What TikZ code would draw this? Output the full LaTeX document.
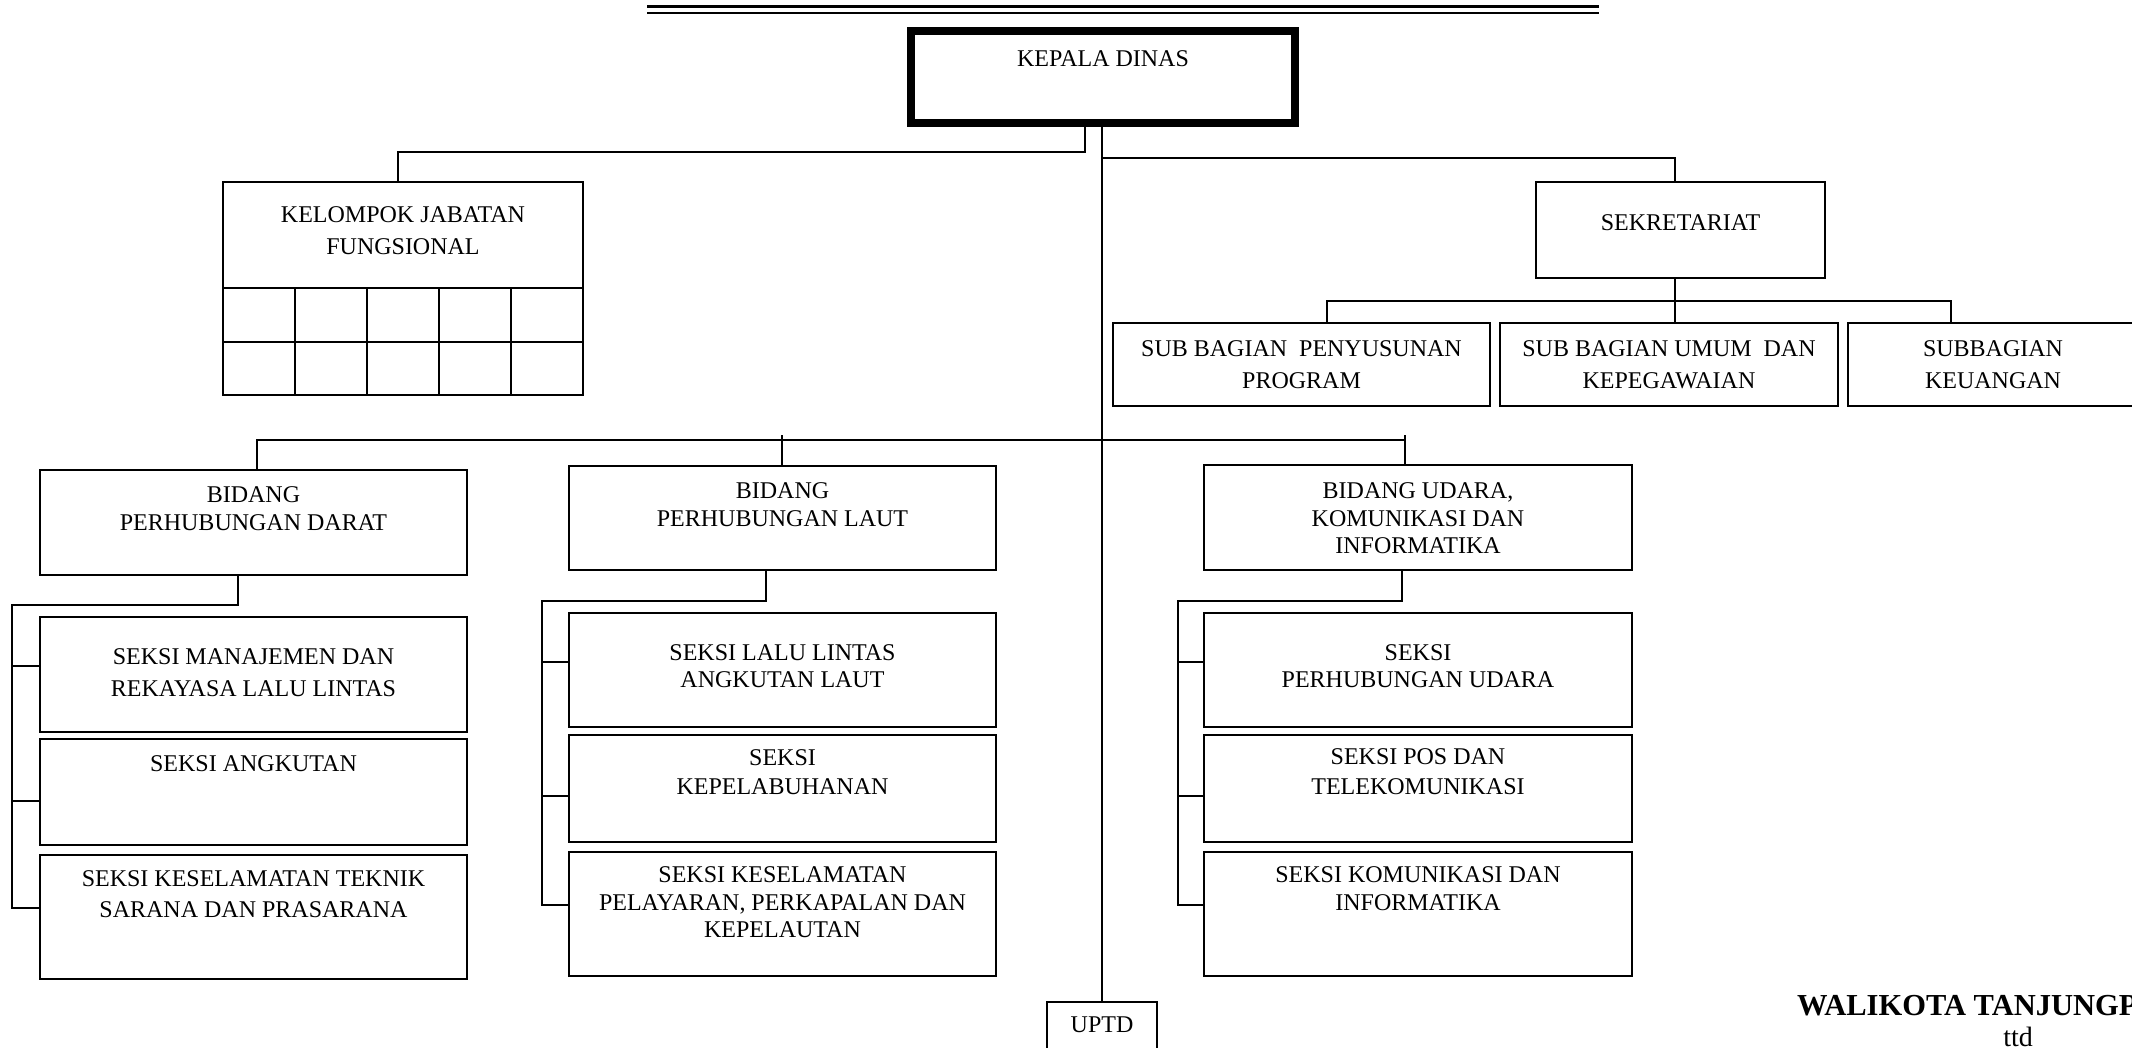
\documentclass[tikz,border=0pt]{standalone}
\usepackage{fontspec}
\setmainfont{Liberation Serif}
\usetikzlibrary{fit}
\tikzset{
  box/.style={draw, line width=2pt, inner sep=0pt, outer sep=0pt, rectangle},
  headbox/.style={draw, line width=8pt, inner sep=0pt, outer sep=0pt, rectangle},
  conn/.style={line width=2pt},
  txt/.style={inner sep=0pt, outer sep=0pt, anchor=north, align=center, font=\fontsize{24}{#1}\selectfont},
  txt/.default=32
}
\begin{document}
\begin{tikzpicture}[x=1pt,y=-1pt]
\useasboundingbox (0,0) rectangle (2132,1048);
% double rule at top
\coordinate (r1a) at (647,6.7); \coordinate (r1b) at (1599,6.7);
\coordinate (r2a) at (647,13);  \coordinate (r2b) at (1599,13);
\draw[line width=3.3pt] (r1a) -- (r1b);
\draw[line width=2.5pt] (r2a) -- (r2b);

% boxes
\node[headbox, fit={(911,31) (1295,123)}] (kd) {};
\node[box, fit={(223,182) (583,395)}] (kjf) {};
\node[box, fit={(1536,182) (1825,278)}] (sek) {};
\node[box, fit={(1113,323) (1490,406)}] (sb1) {};
\node[box, fit={(1500,323) (1838,406)}] (sb2) {};
\node[box, fit={(1848,323) (2140,406)}] (sb3) {};
\node[box, fit={(40,470) (467,575)}] (bd) {};
\node[box, fit={(569,466) (996,570)}] (bl) {};
\node[box, fit={(1204,465) (1632,570)}] (bu) {};
\node[box, fit={(40,617) (467,732)}] (d1) {};
\node[box, fit={(40,739) (467,845)}] (d2) {};
\node[box, fit={(40,855) (467,979)}] (d3) {};
\node[box, fit={(569,613) (996,727)}] (l1) {};
\node[box, fit={(569,735) (996,842)}] (l2) {};
\node[box, fit={(569,852) (996,976)}] (l3) {};
\node[box, fit={(1204,613) (1632,727)}] (u1) {};
\node[box, fit={(1204,735) (1632,842)}] (u2) {};
\node[box, fit={(1204,852) (1632,976)}] (u3) {};
\node[box, fit={(1047,1002) (1157,1060)}] (uptd) {};

% grid of kelompok jabatan fungsional
\draw[conn] (kjf.west |- 0,288) -- (kjf.east |- 0,288);
\draw[conn] (kjf.west |- 0,342) -- (kjf.east |- 0,342);
\foreach \cx in {295,367,439,511} {\draw[conn] (\cx,288) -- (\cx,0 |- kjf.south);}

% texts
\node[txt] (tkd) at (1103,51) {KEPALA DINAS};
\node[txt] (tkjf) at (403,207) {KELOMPOK JABATAN\\FUNGSIONAL};
\node[txt] (tsek) at (1680.5,215) {SEKRETARIAT};
\node[txt] (tsb1) at (1301.5,341) {SUB BAGIAN\ \ PENYUSUNAN\\PROGRAM};
\node[txt] (tsb2) at (1669,341) {SUB BAGIAN UMUM\ \ DAN\\KEPEGAWAIAN};
\node[txt] (tsb3) at (1993,341) {SUBBAGIAN\\KEUANGAN};
\node[txt=28] (tbd) at (253.5,487) {BIDANG\\PERHUBUNGAN DARAT};
\node[txt=28] (tbl) at (782.5,483) {BIDANG\\PERHUBUNGAN LAUT};
\node[txt=27.5] (tbu) at (1418,483) {BIDANG UDARA,\\KOMUNIKASI DAN\\INFORMATIKA};
\node[txt=32] (td1) at (253.5,649) {SEKSI MANAJEMEN DAN\\REKAYASA LALU LINTAS};
\node[txt] (td2) at (253.5,756) {SEKSI ANGKUTAN};
\node[txt=31] (td3) at (253.5,871) {SEKSI KESELAMATAN TEKNIK\\SARANA DAN PRASARANA};
\node[txt=27] (tl1) at (782.5,645) {SEKSI LALU LINTAS\\ANGKUTAN LAUT};
\node[txt=29] (tl2) at (782.5,750) {SEKSI\\KEPELABUHANAN};
\node[txt=27.5] (tl3) at (782.5,867) {SEKSI KESELAMATAN\\PELAYARAN, PERKAPALAN DAN\\KEPELAUTAN};
\node[txt=27] (tu1) at (1418,645) {SEKSI\\PERHUBUNGAN UDARA};
\node[txt=30] (tu2) at (1418,749) {SEKSI POS DAN\\TELEKOMUNIKASI};
\node[txt=28] (tu3) at (1418,867) {SEKSI KOMUNIKASI DAN\\INFORMATIKA};
\node[txt] (tuptd) at (1102,1017) {UPTD};
\node[inner sep=0pt, anchor=base west, font=\fontsize{30.5}{34}\selectfont\bfseries] (wk) at (1797,1015) {WALIKOTA TANJUNGPINANG};
\node[inner sep=0pt, anchor=base, font=\fontsize{28}{32}\selectfont] (ttd) at (2018,1046) {ttd};

% junction coordinates
\coordinate (jl) at (1085,152);
\coordinate (jr) at (1103,158);
\coordinate (jbus) at (1103,440);

% connectors from kepala dinas
\draw[conn] (jl |- kd.south) -- (jl) -- (398,152) -- (398,0 |- kjf.north);
\draw[conn] (uptd.north |- kd.south) -- (uptd.north);
\draw[conn] (jr) -- (1675,158) -- (1675,0 |- sek.north);

% sekretariat to sub bagian
\draw[conn] (1675,0 |- sek.south) -- (1675,0 |- sb2.north);
\draw[conn] (1327,0 |- sb1.north) -- (1327,301) -- (1951,301) -- (1951,0 |- sb3.north);

% bus to bidang
\draw[conn] (257,0 |- bd.north) -- (257,440) -- (1405,440);
\draw[conn] (782,435) -- (782,0 |- bl.north);
\draw[conn] (1405,435) -- (1405,0 |- bu.north);

% darat
\draw[conn] (238,0 |- bd.south) -- (238,605) -- (12,605) -- (12,908) -- (d3.west |- 0,908);
\draw[conn] (12,666) -- (d1.west |- 0,666);
\draw[conn] (12,801) -- (d2.west |- 0,801);
% laut
\draw[conn] (766,0 |- bl.south) -- (766,601) -- (542,601) -- (542,905) -- (l3.west |- 0,905);
\draw[conn] (542,662) -- (l1.west |- 0,662);
\draw[conn] (542,796) -- (l2.west |- 0,796);
% udara
\draw[conn] (1402,0 |- bu.south) -- (1402,601) -- (1178,601) -- (1178,905) -- (u3.west |- 0,905);
\draw[conn] (1178,662) -- (u1.west |- 0,662);
\draw[conn] (1178,796) -- (u2.west |- 0,796);
\end{tikzpicture}
\end{document}
